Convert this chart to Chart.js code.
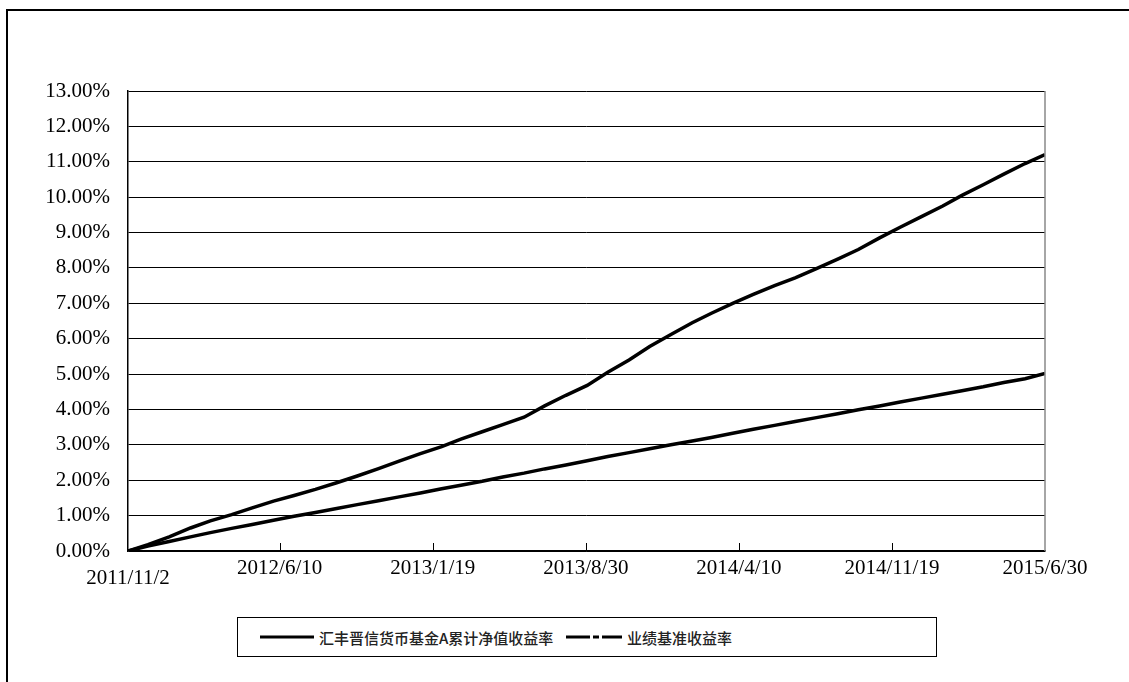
<!DOCTYPE html>
<html>
<head>
<meta charset="utf-8">
<script src="https://cdn.jsdelivr.net/npm/chart.js@4.4.1/dist/chart.umd.min.js"></script>
<style>
  html, body { margin: 0; padding: 0; background: #fff; }
  body { width: 1129px; height: 682px; position: relative; overflow: hidden; }
  #frame { position: absolute; left: 6px; top: 9px; width: 1200px; height: 800px;
           border-top: 2px solid #000; border-left: 2px solid #000; }
  #wrap { position: absolute; left: 0; top: 0; width: 1129px; height: 682px; }
  #legend { position: absolute; left: 237px; top: 617px; width: 698px; height: 38px;
            border: 1.5px solid #000; background: #fff;
            font-family: "Noto Sans CJK SC", sans-serif; font-size: 15px; font-weight: 500; color: #222; }
  .item { position: absolute; top: 0; height: 38px; display: flex; align-items: center; white-space: nowrap; }
  .item svg { margin-right: 5px; }
</style>
</head>
<body>
<div id="frame"></div>
<div id="wrap"><canvas id="c" width="1129" height="682"></canvas></div>
<div id="legend">
  <div class="item" style="left:22px">
    <svg width="54" height="6"><line x1="0" y1="3" x2="54" y2="3" stroke="#000" stroke-width="3"/></svg>
    <span id="lg0"></span>
  </div>
  <div class="item" style="left:328px">
    <svg width="56" height="6"><line x1="0" y1="3" x2="56" y2="3" stroke="#000" stroke-width="3" stroke-dasharray="24 3 6 3 20"/></svg>
    <span id="lg1"></span>
  </div>
</div>
<script>
// ---- data ----
const seriesNames = ['汇丰晋信货币基金A累计净值收益率', '业绩基准收益率'];
const startDate = '2011-11-02';
const tickLabels = ['2011/11/2', '2012/6/10', '2013/1/19', '2013/8/30', '2014/4/10', '2014/11/19', '2015/6/30'];
const dates = [
  '2011-11-02','2011-12-01','2012-01-01','2012-02-01','2012-03-01','2012-04-01','2012-05-01','2012-06-01',
  '2012-07-01','2012-08-01','2012-09-01','2012-10-01','2012-11-01','2012-12-01','2013-01-01','2013-02-01',
  '2013-03-01','2013-04-01','2013-05-01','2013-06-01','2013-07-01','2013-08-01','2013-09-01','2013-10-01',
  '2013-11-01','2013-12-01','2014-01-01','2014-02-01','2014-03-01','2014-04-01','2014-05-01','2014-06-01',
  '2014-07-01','2014-08-01','2014-09-01','2014-10-01','2014-11-01','2014-12-01','2015-01-01','2015-02-01',
  '2015-03-01','2015-04-01','2015-05-01','2015-06-01','2015-06-30'
];
const fundReturn = [
  0.00, 0.18, 0.40, 0.65, 0.85, 1.03, 1.22, 1.41,
  1.57, 1.74, 1.93, 2.12, 2.33, 2.54, 2.75, 2.95,
  3.16, 3.37, 3.57, 3.78, 4.10, 4.40, 4.68, 5.05,
  5.40, 5.78, 6.12, 6.45, 6.72, 7.00, 7.25, 7.50,
  7.72, 7.98, 8.25, 8.52, 8.85, 9.15, 9.45, 9.75,
  10.05, 10.35, 10.65, 10.95, 11.20
];
const benchmarkReturn = [
  0.00, 0.14, 0.27, 0.40, 0.52, 0.64, 0.75, 0.87,
  0.98, 1.09, 1.20, 1.31, 1.42, 1.53, 1.64, 1.76,
  1.86, 1.97, 2.09, 2.20, 2.32, 2.43, 2.55, 2.67,
  2.78, 2.89, 3.00, 3.11, 3.21, 3.33, 3.44, 3.55,
  3.66, 3.77, 3.88, 3.99, 4.10, 4.21, 4.32, 4.43,
  4.53, 4.64, 4.76, 4.87, 5.02
];
const yMin = 0, yMax = 13, yStep = 1;

// ---- helpers ----
function dayOffset(s) {
  const p = s.split(/[-\/]/).map(Number);
  const a = Date.UTC(+startDate.slice(0,4), +startDate.slice(5,7) - 1, +startDate.slice(8,10));
  return Math.round((Date.UTC(p[0], p[1] - 1, p[2]) - a) / 86400000);
}
const tickValues = tickLabels.map(dayOffset);
const xMax = tickValues[tickValues.length - 1];

document.getElementById('lg0').textContent = seriesNames[0];
document.getElementById('lg1').textContent = seriesNames[1];

const tickFont = { family: '"Liberation Serif", "Times New Roman", serif', size: 21, lineHeight: 0.5 };

const decor = {
  id: 'decor',
  afterDatasetsDraw(chart) {
    const { ctx, chartArea, scales } = chart;
    ctx.save();
    ctx.strokeStyle = '#888';
    ctx.lineWidth = 1.5;
    ctx.beginPath();
    ctx.moveTo(chartArea.right, chartArea.top);
    ctx.lineTo(chartArea.right, chartArea.bottom);
    ctx.stroke();
    ctx.strokeStyle = '#000';
    ctx.lineWidth = 1;
    tickValues.slice(1, -1).forEach(v => {
      const x = Math.round(scales.x.getPixelForValue(v)) + 0.5;
      ctx.beginPath();
      ctx.moveTo(x, chartArea.bottom);
      ctx.lineTo(x, chartArea.bottom - 8);
      ctx.stroke();
    });
    ctx.restore();
  }
};

new Chart(document.getElementById('c'), {
  type: 'line',
  data: {
    datasets: [
      { label: seriesNames[0], data: dates.map((d, i) => ({ x: dayOffset(d), y: fundReturn[i] })),
        borderColor: '#000', borderWidth: 3.5, pointRadius: 0, tension: 0, fill: false },
      { label: seriesNames[1], data: dates.map((d, i) => ({ x: dayOffset(d), y: benchmarkReturn[i] })),
        borderColor: '#000', borderWidth: 3.5, pointRadius: 0, tension: 0, fill: false }
    ]
  },
  options: {
    responsive: false,
    animation: false,
    layout: { padding: { top: 91, right: 84, left: 0, bottom: 0 } },
    plugins: { legend: { display: false }, tooltip: { enabled: false } },
    scales: {
      x: {
        type: 'linear', min: 0, max: xMax,
        afterBuildTicks(scale) { scale.ticks = tickValues.map(v => ({ value: v })); },
        afterFit(scale) { scale.height = 131; },
        grid: { display: false, drawTicks: false },
        border: { display: true, color: '#000', width: 1.5 },
        ticks: {
          autoSkip: false, maxRotation: 0, padding: 12, color: '#000', font: tickFont,
          callback(v) {
            const i = tickValues.indexOf(v);
            if (i < 0) return '';
            return i === 0 ? ['', tickLabels[i]] : tickLabels[i];
          }
        }
      },
      y: {
        min: yMin, max: yMax,
        afterFit(scale) { scale.width = 128; },
        grid: { color: '#000', lineWidth: 1, drawTicks: false },
        border: { display: true, color: '#000', width: 1.5 },
        ticks: {
          stepSize: yStep, padding: 18, color: '#000',
          font: { family: '"Liberation Serif", "Times New Roman", serif', size: 21 },
          callback(v) { return v.toFixed(2) + '%'; }
        }
      }
    }
  },
  plugins: [decor]
});
</script>
</body>
</html>
